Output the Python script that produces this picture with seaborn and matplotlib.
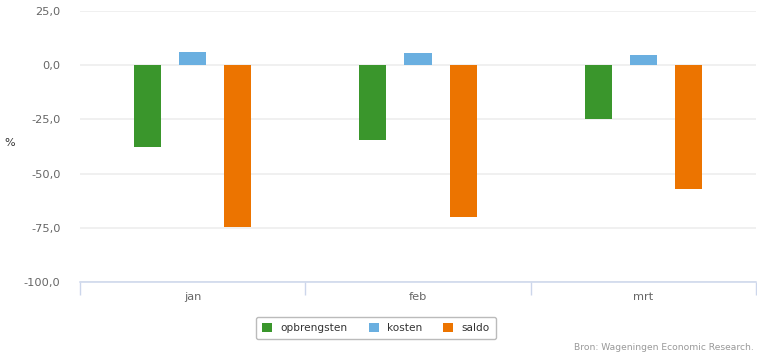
import matplotlib
matplotlib.use("Agg")
import matplotlib.pyplot as plt
import pandas as pd
import seaborn as sns
from matplotlib.patches import Patch


MONTHS = ["jan", "feb", "mrt"]
SERIES = ["opbrengsten", "kosten", "saldo"]
OPBRENGSTEN = [-37.6, -34.3, -24.8]
KOSTEN = [6.0, 5.5, 4.6]
SALDO = [-74.8, -70.2, -56.9]
Y_TICKS = [25, 0, -25, -50, -75, -100]
Y_TICK_LABELS = ["25,0", "0,0", "-25,0", "-50,0", "-75,0", "-100,0"]
COLORS = ["#3a962c", "#6aafe0", "#ec7400"]
SOURCE = "Bron: Wageningen Economic Research."


def build_frame():
    rows = []
    for series, values in zip(SERIES, [OPBRENGSTEN, KOSTEN, SALDO]):
        for month, value in zip(MONTHS, values):
            rows.append({"maand": month, "reeks": series, "waarde": value})
    return pd.DataFrame(rows)


def main():
    sns.set_theme(style="white")
    plt.rcParams["font.family"] = ["DejaVu Sans"]

    df = build_frame()

    fig = plt.figure(figsize=(7.57, 3.56), dpi=100)
    ax = fig.add_axes([80 / 757, 1 - 282 / 356, 676 / 757, 271 / 356])

    sns.barplot(
        data=df,
        x="maand",
        y="waarde",
        hue="reeks",
        order=MONTHS,
        hue_order=SERIES,
        palette=COLORS,
        width=0.6,
        gap=0.4,
        saturation=1,
        linewidth=0,
        legend=False,
        ax=ax,
    )

    ax.set_ylim(-100, 25)
    ax.set_xlim(-0.5, 2.5)
    ax.set_yticks(Y_TICKS)
    ax.set_yticklabels(Y_TICK_LABELS)
    ax.yaxis.grid(True, color="#ececec", linewidth=1.1)
    ax.set_axisbelow(True)

    for side in ["top", "right", "left"]:
        ax.spines[side].set_visible(False)
    ax.spines["bottom"].set_color("#ccd6eb")
    ax.spines["bottom"].set_linewidth(1.1)

    ax.set_xticks([-0.5, 0.5, 1.5, 2.5], minor=True)
    ax.tick_params(axis="x", which="minor", bottom=True, length=9, color="#ccd6eb", width=1, direction="out")
    ax.tick_params(axis="x", which="major", bottom=False, length=0, pad=7, labelsize=8.2, labelcolor="#666666")
    ax.tick_params(axis="y", length=0, pad=14, labelsize=8.2, labelcolor="#666666")

    ax.set_xlabel("")
    ax.set_ylabel("")
    fig.text(10 / 757, 1 - 143 / 356, "%", ha="center", va="center", fontsize=8, color="#333333")

    handles = [Patch(facecolor=c, edgecolor="none") for c in COLORS]
    leg = fig.legend(
        handles,
        SERIES,
        loc="center",
        bbox_to_anchor=(376 / 757, 1 - 328 / 356),
        ncol=3,
        fontsize=7.6,
        frameon=True,
        handlelength=0.95,
        handleheight=0.95,
        handletextpad=0.8,
        columnspacing=2.0,
        borderpad=0.6,
        fancybox=True,
    )
    leg.get_frame().set_edgecolor("#aaaaaa")
    leg.get_frame().set_linewidth(1)
    for text in leg.get_texts():
        text.set_color("#333333")

    fig.text(754 / 757, 1 - 348 / 356, SOURCE, ha="right", va="center", fontsize=6.6, color="#999999")

    fig.savefig("out.png", dpi=100)
    plt.close(fig)


if __name__ == "__main__":
    main()
